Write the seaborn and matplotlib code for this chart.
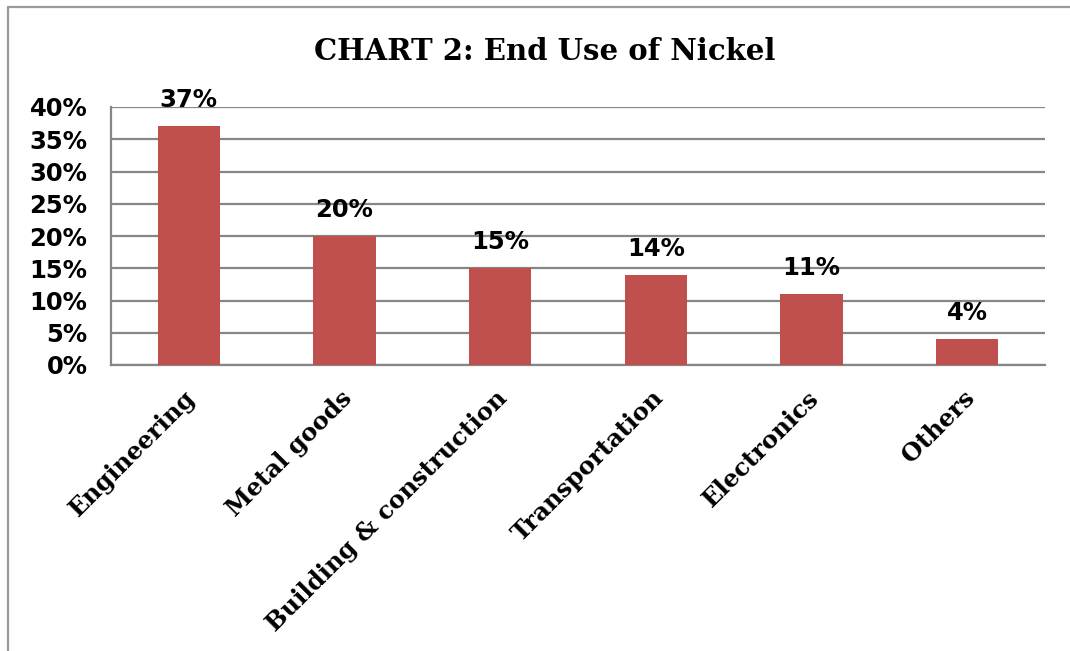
import matplotlib
matplotlib.use("Agg")
import matplotlib.pyplot as plt
from matplotlib.lines import Line2D
from matplotlib.transforms import ScaledTranslation
import seaborn as sns
import pandas as pd

categories = ["Engineering", "Metal goods", "Building & construction",
              "Transportation", "Electronics", "Others"]
shares = [37, 20, 15, 14, 11, 4]
y_ticks = [0, 5, 10, 15, 20, 25, 30, 35, 40]
y_tick_labels = [f"{v}%" for v in y_ticks]
title = "CHART 2: End Use of Nickel"

bar_color = "#C0504D"
grid_color = "#868686"

sns.set_theme(style="white")
plt.rcParams["font.family"] = ["DejaVu Sans"]

df = pd.DataFrame({"category": categories, "share": shares})

fig = plt.figure(figsize=(10.7, 6.51), dpi=100)
ax = fig.add_axes([111 / 1070, 1 - 365 / 651, (1045 - 111) / 1070, (365 - 107) / 651])

sns.barplot(data=df, x="category", y="share", color=bar_color, width=0.4,
            saturation=1, linewidth=0, ax=ax, zorder=3)

ax.set_ylim(0, 40)
ax.set_yticks(y_ticks)
ax.set_yticklabels(y_tick_labels, fontsize=17.5, fontweight="bold", color="black")
ax.set_xlabel("")
ax.set_ylabel("")
ax.yaxis.grid(True, color=grid_color, linewidth=1.6, zorder=0)
ax.set_axisbelow(True)
for s in ["top", "right"]:
    ax.spines[s].set_visible(False)
for s in ["left", "bottom"]:
    ax.spines[s].set_color(grid_color)
    ax.spines[s].set_linewidth(1.6)
ax.tick_params(axis="y", length=0, pad=17)
ax.tick_params(axis="x", length=0, pad=15)

ax.set_xticks(range(len(categories)))
ax.set_xticklabels(categories, rotation=45, ha="right", rotation_mode="anchor",
                   fontsize=17.5, fontweight="bold", family="DejaVu Serif", color="black")
shift = ScaledTranslation(-5 / 100, 0, fig.dpi_scale_trans)
for lbl in ax.get_xticklabels():
    lbl.set_transform(lbl.get_transform() + shift)

for cont in ax.containers:
    ax.bar_label(cont, labels=[f"{v}%" for v in shares], padding=10,
                 fontsize=17.5, fontweight="bold", color="black")

fig.text(545 / 1070, 1 - 51 / 651, title, ha="center", va="center",
         fontsize=21, fontweight="bold", family="DejaVu Serif", color="black")

fig.add_artist(Line2D([8 / 1070, 8 / 1070], [0, 1 - 7 / 651], transform=fig.transFigure,
                      color="#9a9a9a", linewidth=1.6))
fig.add_artist(Line2D([8 / 1070, 1.01], [1 - 7 / 651, 1 - 7 / 651], transform=fig.transFigure,
                      color="#9a9a9a", linewidth=1.6))

fig.savefig("out.png", dpi=100)
